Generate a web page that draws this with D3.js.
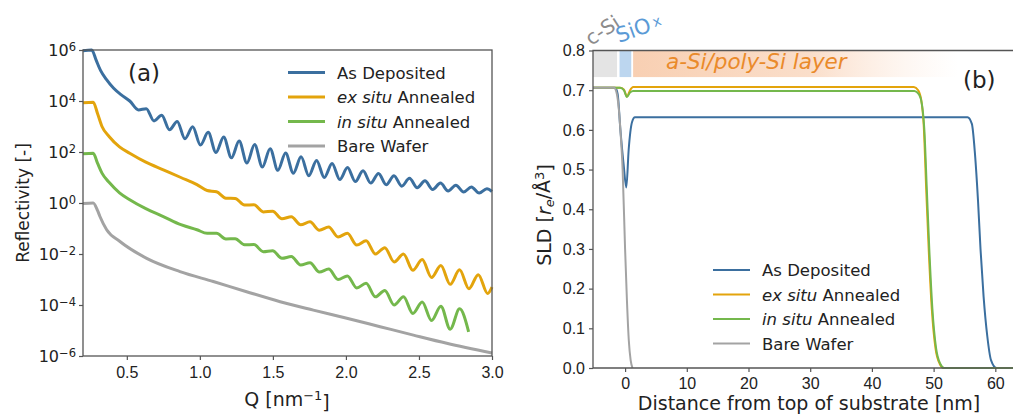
<!DOCTYPE html>
<html>
<head>
<meta charset="utf-8">
<script src="https://cdn.jsdelivr.net/npm/d3@7"></script>
<style>
body { margin: 0; background: #fff; }
svg { display: block; font-family: "DejaVu Sans", sans-serif; }
</style>
</head>
<body>
<svg id="chart" width="1013" height="415"></svg>
<script>
//Series names and colours
var seriesItalic = ["", "ex situ", "in situ", ""];
var seriesRest = ["As Deposited", " Annealed", " Annealed", "Bare Wafer"];
var seriesColors = ["#3b6f9f", "#e3a40c", "#74b84c", "#a3a3a3"];

//(a) reflectivity, [Q in nm^-1, log10 R]
var asDepRefl = [[0.2,5.97],[0.26,6.0],[0.29,5.6],[0.32,5.2],[0.36,4.85],[0.41,4.5],[0.46,4.25],[0.52,4.0],
  [0.58,3.65],[0.633,3.70],[0.686,3.22],[0.739,3.44],[0.792,2.87],[0.845,3.20],[0.898,2.52],[0.951,2.99],
  [1.004,2.27],[1.057,2.77],[1.11,1.98],[1.163,2.59],[1.216,1.77],[1.269,2.43],[1.322,1.57],[1.375,2.29],
  [1.428,1.41],[1.481,2.13],[1.534,1.28],[1.587,1.96],[1.64,1.17],[1.693,1.81],[1.746,1.07],[1.799,1.67],
  [1.852,1.00],[1.905,1.55],[1.958,0.92],[2.011,1.39],[2.064,0.84],[2.117,1.26],[2.17,0.78],[2.223,1.16],
  [2.276,0.72],[2.329,1.07],[2.382,0.66],[2.435,0.97],[2.488,0.60],[2.541,0.87],[2.594,0.53],[2.647,0.78],
  [2.7,0.47],[2.753,0.70],[2.806,0.43],[2.859,0.63],[2.912,0.39],[2.965,0.56],[3.0,0.45]];
var exSituRefl = [[0.2,3.93],[0.27,3.95],[0.3,3.5],[0.33,3.0],[0.38,2.6],[0.45,2.2],[0.52,1.95],[0.63,1.6],
  [0.75,1.3],[0.87,1.0],[0.98,0.72],[1.05,0.49],[1.114,0.44],[1.178,0.19],[1.242,0.18],[1.306,-0.08],
  [1.37,-0.07],[1.434,-0.35],[1.498,-0.32],[1.562,-0.62],[1.626,-0.54],[1.69,-0.85],[1.754,-0.74],
  [1.818,-1.07],[1.882,-0.94],[1.946,-1.33],[2.01,-1.19],[2.074,-1.65],[2.138,-1.48],[2.202,-2.0],
  [2.266,-1.75],[2.33,-2.31],[2.394,-2.0],[2.458,-2.64],[2.522,-2.22],[2.586,-2.92],[2.65,-2.45],
  [2.714,-3.19],[2.778,-2.62],[2.842,-3.36],[2.906,-2.81],[2.97,-3.55],[3.0,-3.3]];
var inSituRefl = [[0.2,1.93],[0.27,1.95],[0.3,1.55],[0.33,1.17],[0.38,0.8],[0.45,0.4],[0.52,0.13],[0.63,-0.22],
  [0.75,-0.53],[0.87,-0.85],[0.98,-1.05],[1.05,-1.19],[1.114,-1.19],[1.178,-1.41],[1.242,-1.40],[1.306,-1.64],
  [1.37,-1.63],[1.434,-1.91],[1.498,-1.87],[1.562,-2.17],[1.626,-2.1],[1.69,-2.43],[1.754,-2.34],
  [1.818,-2.71],[1.882,-2.59],[1.946,-3.0],[2.01,-2.86],[2.074,-3.33],[2.138,-3.15],[2.202,-3.68],
  [2.266,-3.43],[2.33,-4.0],[2.394,-3.68],[2.458,-4.33],[2.522,-3.88],[2.586,-4.61],[2.65,-4.05],
  [2.714,-4.95],[2.778,-4.15],[2.84,-5.05]];
var bareRefl = [[0.2,-0.02],[0.27,0.0],[0.3,-0.3],[0.316,-0.53],[0.362,-1.05],[0.453,-1.51],[0.636,-2.17],
  [0.864,-2.69],[1.092,-3.08],[1.32,-3.48],[1.55,-3.87],[1.777,-4.2],[2.006,-4.52],[2.234,-4.85],
  [2.462,-5.18],[2.69,-5.5],[3.0,-5.88]];

//(b) SLD profiles, [distance nm, SLD]
var asDepSLD = [[-5.2,0.706],[-1.6,0.706],[-1.2,0.69],[-0.76,0.6],[-0.22,0.51],[0.2,0.455],[0.58,0.55],
  [1.13,0.62],[1.6,0.632],[55.5,0.632],[56.2,0.615],[56.7,0.54],[57.2,0.42],[57.6,0.3],[58.1,0.18],
  [58.7,0.08],[59.3,0.02],[60.2,0],[64,0]];
var exSituSLD = [[-5.2,0.706],[-0.8,0.706],[-0.2,0.702],[0.3,0.684],[0.8,0.700],[1.3,0.708],[46.8,0.708],
  [47.5,0.70],[48.0,0.675],[48.4,0.61],[48.8,0.45],[49.2,0.3],[49.7,0.15],[50.3,0.05],[51.0,0.01],[51.6,0],[64,0]];
var inSituSLD = [[-5.2,0.706],[-0.8,0.706],[-0.2,0.700],[0.3,0.683],[0.8,0.694],[1.3,0.698],[46.9,0.698],
  [47.6,0.69],[48.1,0.665],[48.5,0.6],[48.9,0.45],[49.3,0.3],[49.8,0.15],[50.4,0.05],[51.1,0.01],[51.7,0],[64,0]];
var bareSLD = [[-5.2,0.706],[-1.8,0.706],[-1.4,0.695],[-1.0,0.65],[-0.76,0.6],[-0.4,0.5],[0,0.3],[0.3,0.17],
  [0.6,0.07],[0.9,0.02],[1.2,0]];

//Layer band in (b)
var bandNames = ["c-Si", "SiOx", "a-Si/poly-Si layer"];
var bandStart = [-5.2, -0.9, 1.3];
var bandEnd = [-1.3, 1.0, 54];
var bandTop = 0.8, bandBottom = 0.733;

//Ticks
var qTicks = [0.5, 1.0, 1.5, 2.0, 2.5, 3.0];
var reflExp = [-6, -4, -2, 0, 2, 4, 6];
var distTicks = [0, 10, 20, 30, 40, 50, 60];
var sldTicks = [0.0, 0.1, 0.2, 0.3, 0.4, 0.5, 0.6, 0.7, 0.8];

var svg = d3.select("#chart");
var axisColor = "#555";
var textColor = "#222";

// ---------- panel (a) ----------
var xQ = d3.scaleLinear().domain([0.2, 3.0]).range([83, 492]);
var yR = d3.scaleLog().domain([1e-6, 1e6]).range([356, 50]);

var reflLine = d3.line()
    .x(function(d) { return xQ(d[0]); })
    .y(function(d) { return yR(Math.pow(10, d[1])); })
    .curve(d3.curveMonotoneX);

[asDepRefl, exSituRefl, inSituRefl, bareRefl].forEach(function(s, i) {
    svg.append("path").attr("d", reflLine(s)).attr("fill", "none")
        .attr("stroke", seriesColors[i]).attr("stroke-width", 3).attr("stroke-linejoin", "round");
});

var gxA = svg.append("g").attr("transform", "translate(0,356)")
    .call(d3.axisBottom(xQ).tickValues(qTicks).tickFormat(d3.format(".1f")).tickSize(4).tickPadding(7));
var gyA = svg.append("g").attr("transform", "translate(83,0)")
    .call(d3.axisLeft(yR).tickValues(reflExp.map(function(e) { return Math.pow(10, e); })).tickFormat("").tickSize(4));
[gxA, gyA].forEach(function(g) {
    g.select(".domain").remove();
    g.selectAll("line").attr("stroke", axisColor).attr("stroke-width", 1.2);
    g.selectAll("text").attr("fill", textColor).style("font-size", "16px");
});
//Power-of-ten labels
reflExp.forEach(function(e) {
    var t = svg.append("text").attr("x", 76).attr("y", yR(Math.pow(10, e)) + 6)
        .attr("text-anchor", "end").attr("fill", textColor).style("font-size", "16px");
    t.append("tspan").text("10");
    t.append("tspan").attr("dy", "-0.45em").style("font-size", "11.5px").text(e < 0 ? "\u2212" + (-e) : e);
});
svg.append("rect").attr("x", 83).attr("y", 50).attr("width", 409).attr("height", 306)
    .attr("fill", "none").attr("stroke", axisColor).attr("stroke-width", 1.3);

svg.append("text").attr("transform", "translate(29,203) rotate(-90)").attr("text-anchor", "middle")
    .attr("fill", textColor).style("font-size", "17px").text("Reflectivity [-]");
var qLab = svg.append("text").attr("x", 287).attr("y", 406).attr("text-anchor", "middle")
    .attr("fill", textColor).style("font-size", "19px");
qLab.append("tspan").text("Q [nm");
qLab.append("tspan").attr("dy", "-0.45em").style("font-size", "13px").text("\u22121");
qLab.append("tspan").attr("dy", "0.45em").text("]");
svg.append("text").attr("x", 128).attr("y", 81).attr("fill", textColor).style("font-size", "23px").text("(a)");

function legend(x0, y0, lw) {
    seriesRest.forEach(function(name, i) {
        var y = y0 + i * 24.5;
        svg.append("line").attr("x1", x0).attr("x2", x0 + 37).attr("y1", y).attr("y2", y)
            .attr("stroke", seriesColors[i]).attr("stroke-width", lw);
        var t = svg.append("text").attr("x", x0 + 49).attr("y", y + 6).attr("fill", textColor).style("font-size", "16.5px");
        if (seriesItalic[i]) t.append("tspan").style("font-style", "italic").text(seriesItalic[i]);
        t.append("tspan").text(name);
    });
}
legend(288, 72.5, 3);

// ---------- panel (b) ----------
var xD = d3.scaleLinear().domain([-5.2, 64]).range([593, 1020]);
var yS = d3.scaleLinear().domain([0, 0.8]).range([368, 50.5]);

//Layer band
var defs = svg.append("defs");
var grad = defs.append("linearGradient").attr("id", "layerGrad");
grad.append("stop").attr("offset", "0%").attr("stop-color", "#f7c7a5").attr("stop-opacity", 0.85);
grad.append("stop").attr("offset", "55%").attr("stop-color", "#f9d6bd").attr("stop-opacity", 0.8);
grad.append("stop").attr("offset", "100%").attr("stop-color", "#fde9dc").attr("stop-opacity", 0);
var bandFills = ["#e4e4e4", "#bcd6ef", "url(#layerGrad)"];
bandNames.forEach(function(n, i) {
    svg.append("rect").attr("x", xD(bandStart[i])).attr("y", yS(bandTop))
        .attr("width", xD(bandEnd[i]) - xD(bandStart[i])).attr("height", yS(bandBottom) - yS(bandTop))
        .attr("fill", bandFills[i]);
});

var sldLine = d3.line()
    .x(function(d) { return xD(d[0]); })
    .y(function(d) { return yS(d[1]); })
    .curve(d3.curveMonotoneX);
[asDepSLD, exSituSLD, inSituSLD, bareSLD].forEach(function(s, i) {
    svg.append("path").attr("d", sldLine(s)).attr("fill", "none")
        .attr("stroke", seriesColors[i]).attr("stroke-width", 2).attr("stroke-linejoin", "round");
});

var gxB = svg.append("g").attr("transform", "translate(0,368)")
    .call(d3.axisBottom(xD).tickValues(distTicks).tickSize(4).tickPadding(6));
var gyB = svg.append("g").attr("transform", "translate(593,0)")
    .call(d3.axisLeft(yS).tickValues(sldTicks).tickFormat(d3.format(".1f")).tickSize(4).tickPadding(4));
[gxB, gyB].forEach(function(g) {
    g.select(".domain").remove();
    g.selectAll("line").attr("stroke", axisColor).attr("stroke-width", 1.2);
    g.selectAll("text").attr("fill", textColor).style("font-size", "16px");
});
svg.append("path").attr("d", "M1013,50.5H593V368H1013").attr("fill", "none")
    .attr("stroke", axisColor).attr("stroke-width", 1.3);

//Band labels
svg.append("text").attr("transform", "translate(591,46) rotate(-33)").attr("fill", "#8c8c8c")
    .style("font-size", "20px").text(bandNames[0]);
var siox = svg.append("text").attr("transform", "translate(619,43) rotate(-20)").attr("fill", "#5a9ad6")
    .style("font-size", "21px");
siox.append("tspan").text(bandNames[1].slice(0, 3));
siox.append("tspan").attr("dx", 3).attr("dy", "-0.2em").style("font-size", "14px").text(bandNames[1].slice(3));
svg.append("text").attr("x", 666).attr("y", 69).attr("fill", "#ea8a2a").style("font-style", "italic")
    .style("font-size", "21.5px").text(bandNames[2]);

svg.append("text").attr("x", 963).attr("y", 88).attr("fill", textColor).style("font-size", "23px").text("(b)");

var sLab = svg.append("text").attr("transform", "translate(551,215) rotate(-90)").attr("text-anchor", "middle")
    .attr("fill", textColor).style("font-size", "19px");
sLab.append("tspan").text("SLD [");
sLab.append("tspan").style("font-style", "italic").text("r");
sLab.append("tspan").attr("dy", "0.25em").style("font-size", "13px").style("font-style", "italic").text("e");
sLab.append("tspan").attr("dy", "-0.25em").text("/\u00c5");
sLab.append("tspan").attr("dy", "-0.45em").style("font-size", "13px").text("3");
sLab.append("tspan").attr("dy", "0.45em").text("]");

svg.append("text").attr("x", 809).attr("y", 410).attr("text-anchor", "middle").attr("fill", textColor)
    .style("font-size", "19px").text("Distance from top of substrate [nm]");

legend(713, 270, 2);
</script>
</body>
</html>
